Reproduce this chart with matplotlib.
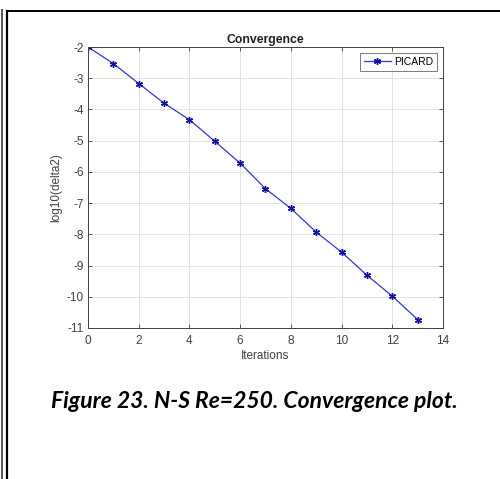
import matplotlib
matplotlib.use('Agg')
import matplotlib.pyplot as plt
from matplotlib.lines import Line2D

# Données de convergence
iterations = [0, 1, 2, 3, 4, 5, 6, 7, 8, 9, 10, 11, 12, 13]
log_delta = [-2.0, -2.53, -3.17, -3.80, -4.33, -5.02, -5.72, -6.54, -7.17,
             -7.93, -8.57, -9.31, -9.98, -10.73]
x_ticks = [0, 2, 4, 6, 8, 10, 12, 14]
y_ticks = [-11, -10, -9, -8, -7, -6, -5, -4, -3, -2]

plt.rcParams['font.family'] = 'Liberation Sans'
plt.rcParams['axes.unicode_minus'] = False

W, H = 500, 479
fig = plt.figure(figsize=(W / 100, H / 100), dpi=100)

# Axes en pixels : gauche 88, droite 443, haut 47, bas 328
ax = fig.add_axes([88 / W, 1 - 328 / H, (443 - 88) / W, (328 - 47) / H])
ax.plot(iterations, log_delta, color='#3535d0', linewidth=0.9, marker=(6, 2, 0),
        markersize=5, markeredgecolor='#1010a0', markeredgewidth=1.0,
        label='PICARD')
ax.set_xlim(0, 14)
ax.set_ylim(-11, -2)
ax.set_xticks(x_ticks)
ax.set_yticks(y_ticks)
ax.grid(True, color='#e3e3e3', linewidth=0.7)
ax.set_axisbelow(True)
ax.tick_params(direction='in', labelsize=8.5, colors='#404040', length=3, width=0.6,
               top=True, right=True)
ax.tick_params(axis='x', pad=5)
ax.tick_params(axis='y', pad=3)
for s in ax.spines.values():
    s.set_color('#404040')
    s.set_linewidth(0.7)
ax.set_title('Convergence', fontsize=8.8, fontweight='bold', pad=3, color='#202020')
ax.set_xlabel('Iterations', fontsize=8.5, color='#404040', labelpad=2)
ax.set_ylabel('log10(delta2)', fontsize=8.5, color='#404040', labelpad=3)
leg = ax.legend(loc='upper right', fontsize=7.5, frameon=True, fancybox=False,
                handlelength=2.6, handletextpad=0.3, borderpad=0.35,
                borderaxespad=0.6)
leg.get_frame().set_edgecolor('#404040')
leg.get_frame().set_linewidth(0.6)

# Légende de la figure
fig.text(254 / W, 1 - 402 / H, 'Figure 23. N-S Re=250. Convergence plot.',
         fontsize=16.5, fontweight='bold', fontstyle='italic',
         family='Lato', ha='center', va='center')

# Cadre du document
def px_line(x0, y0, x1, y1, color, lw):
    fig.add_artist(Line2D([x0 / W, x1 / W], [1 - y0 / H, 1 - y1 / H],
                          transform=fig.transFigure, color=color, linewidth=lw))

px_line(1.5, 10, 1.5, H, '#555555', 1.4)
px_line(7, 11, 7, H, 'black', 1.6)
px_line(7, 11, W, 11, 'black', 1.4)

fig.savefig('out.png', dpi=100)
